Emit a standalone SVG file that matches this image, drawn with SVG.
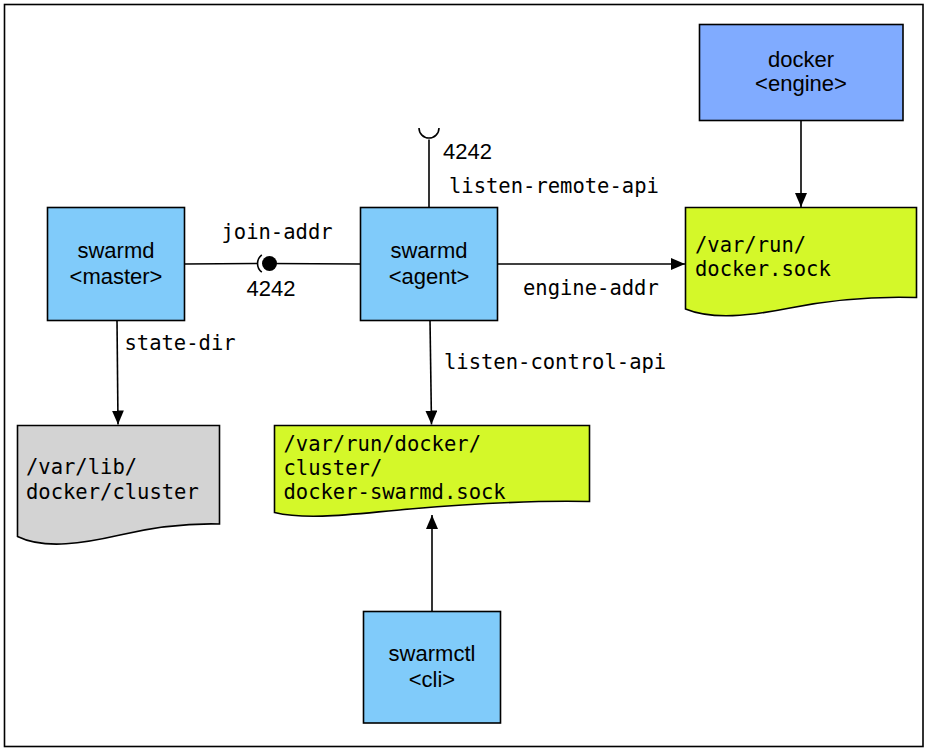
<svg xmlns="http://www.w3.org/2000/svg" width="928" height="751" viewBox="0 0 928 751">
<defs>
<marker id="arr" markerWidth="14" markerHeight="12" refX="14" refY="6" orient="auto" markerUnits="userSpaceOnUse">
<path d="M0,0 L14,6 L0,12 Z" fill="#000"/>
</marker>
<style>
.box{stroke:#000;stroke-width:1.6}
.blue{fill:#80CBFA}
.engine{fill:#80ABFF}
.green{fill:#D4F829}
.gray{fill:#D3D3D3}
.sans{font-family:"Liberation Sans",Arial,Helvetica,sans-serif;font-size:22px;fill:#000}
.mono{font-family:"DejaVu Sans Mono","Liberation Mono",monospace;font-size:20.5px;fill:#000}
.ln{stroke:#000;stroke-width:1.6;fill:none}
</style>
</defs>
<rect width="928" height="751" fill="#fff"/>
<rect x="4.5" y="4.5" width="918.5" height="742" fill="none" stroke="#000" stroke-width="1.6"/>

<g id="connectors">
<line class="ln" x1="184" y1="264" x2="258" y2="263.5"/>
<line class="ln" x1="268" y1="263.5" x2="360" y2="264"/>
<path class="ln" d="M261.8,254.8 A11 11 0 0 0 261.8,272.2"/>
<circle cx="269.5" cy="263.5" r="7.5" fill="#000"/>
<line class="ln" x1="429" y1="139.5" x2="429" y2="207"/>
<path class="ln" d="M419,128 A10 10 0 0 0 439,128"/>
<line class="ln" x1="497" y1="264" x2="685" y2="264" marker-end="url(#arr)"/>
<line class="ln" x1="801" y1="120" x2="801" y2="207" marker-end="url(#arr)"/>
<line class="ln" x1="430" y1="320" x2="431.5" y2="424.5" marker-end="url(#arr)"/>
<line class="ln" x1="117" y1="320" x2="118" y2="424.5" marker-end="url(#arr)"/>
<line class="ln" x1="432" y1="611" x2="432" y2="515" marker-end="url(#arr)"/>
<text class="mono" x="221.5" y="238.5">join-addr</text>
<text class="sans" x="246.5" y="296">4242</text>
<text class="sans" x="443" y="158.5">4242</text>
<text class="mono" x="449" y="192.5">listen-remote-api</text>
<text class="mono" x="523" y="295">engine-addr</text>
<text class="mono" x="444" y="369">listen-control-api</text>
<text class="mono" x="124.5" y="350">state-dir</text>
</g>

<g id="master">
<rect class="box blue" x="47.5" y="207.5" width="137" height="113"/>
<text class="sans" x="116" y="258" text-anchor="middle">swarmd</text>
<text class="sans" x="116" y="284" text-anchor="middle">&lt;master&gt;</text>
</g>

<g id="agent">
<rect class="box blue" x="360.5" y="207.5" width="137" height="113"/>
<text class="sans" x="429" y="258" text-anchor="middle">swarmd</text>
<text class="sans" x="429" y="284" text-anchor="middle">&lt;agent&gt;</text>
</g>

<g id="engine">
<rect class="box engine" x="699.5" y="24.5" width="203.5" height="96"/>
<text class="sans" x="801" y="67" text-anchor="middle">docker</text>
<text class="sans" x="801" y="91" text-anchor="middle">&lt;engine&gt;</text>
</g>

<g id="dockersock">
<path class="box green" d="M685.5,207.5 H916.5 V297.5 C870,296 830,300 790,308 C750,316 712,320 685.5,309 Z"/>
<text class="mono" x="695" y="251.5">/var/run/</text>
<text class="mono" x="695" y="276">docker.sock</text>
</g>

<g id="varlib">
<path class="box gray" d="M17.5,425.5 H219.5 V524 C180,523 150,528 120,535 C85,543 45,550 17.5,536.5 Z"/>
<text class="mono" x="26" y="474">/var/lib/</text>
<text class="mono" x="26" y="499">docker/cluster</text>
</g>

<g id="swarmdsock">
<path class="box green" d="M274.5,425.5 H589.5 V501.5 C530,500 470,504 410,509 C360,513 310,521 274.5,512.5 Z"/>
<text class="mono" x="283.5" y="451">/var/run/docker/</text>
<text class="mono" x="283.5" y="475">cluster/</text>
<text class="mono" x="283.5" y="499">docker-swarmd.sock</text>
</g>

<g id="swarmctl">
<rect class="box blue" x="363.5" y="611.5" width="137" height="111.5"/>
<text class="sans" x="432" y="661" text-anchor="middle">swarmctl</text>
<text class="sans" x="432" y="686.5" text-anchor="middle">&lt;cli&gt;</text>
</g>
</svg>
